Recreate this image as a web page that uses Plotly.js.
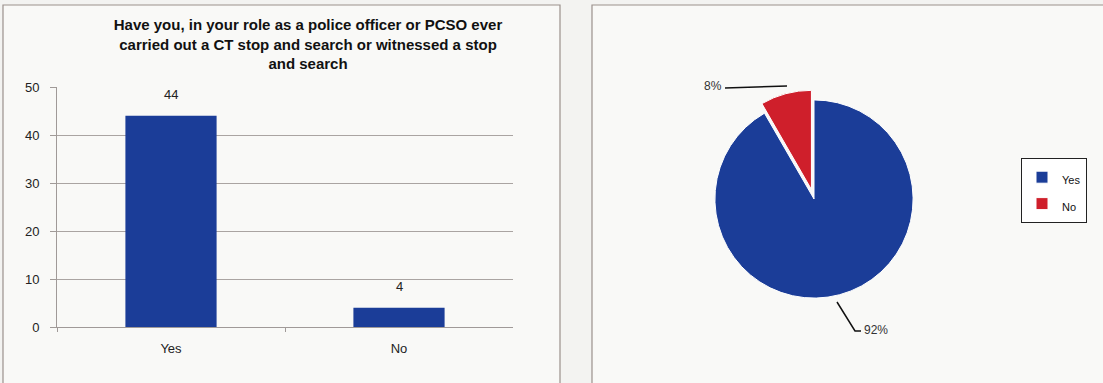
<!DOCTYPE html>
<html>
<head>
<meta charset="utf-8">
<script src="https://cdn.plot.ly/plotly-3.0.1.min.js"></script>
<style>html,body{margin:0;padding:0;background:#f3f3f1;}#chart{width:1103px;height:383px;}</style>
</head>
<body>
<div id="chart"></div>
<script>
// ---- data ----
const categories = ["Yes", "No"];
const counts = [44, 4];
const yTicks = [0, 10, 20, 30, 40, 50];
const chartTitle = "Have you, in your role as a police officer or PCSO ever<br>carried out a CT stop and search or witnessed a stop<br>and search";

// ---- helpers (layout only) ----
const W = 1103, H = 383;
const px = x => x / W;
const py = y => 1 - y / H;

const BLUE = "#1b3d98";
const RED = "#cf1f2b";
const FONT = "Liberation Sans, Arial, sans-serif";

const total = counts.reduce((a, b) => a + b, 0);
const pctText = counts.map(v => Math.round(v / total * 100) + "%");

const barTrace = {
  type: "bar",
  x: categories,
  y: counts,
  marker: {color: BLUE},
  width: 0.4,
  xaxis: "x", yaxis: "y",
  showlegend: false,
  hoverinfo: "x+y"
};

const pieTrace = {
  type: "pie",
  labels: categories.map(c => '<span style="font-size:11px">' + c + '</span>'),
  values: counts,
  sort: false,
  direction: "clockwise",
  rotation: 0,
  pull: [0, 0.1],
  marker: {colors: [BLUE, RED], line: {color: "#ffffff", width: 1}},
  textinfo: "none",
  domain: {x: [px(705), px(923)], y: [py(308), py(90)]},
  showlegend: true,
  hoverinfo: "label+percent"
};

// value labels over bars, from data
const barLabels = categories.map((c, i) => ({
  x: c, y: counts[i], xref: "x", yref: "y",
  text: String(counts[i]), showarrow: false, yanchor: "bottom", yshift: 12,
  font: {family: FONT, size: 13, color: "#222"}
}));

const pieLabels = [
  {xref: "paper", yref: "paper", x: px(724), y: py(86), xanchor: "right", yanchor: "middle",
   text: pctText[1], showarrow: false, font: {family: FONT, size: 12, color: "#333"}},
  {xref: "paper", yref: "paper", x: px(862), y: py(330), xanchor: "left", yanchor: "middle",
   text: pctText[0], showarrow: false, font: {family: FONT, size: 12, color: "#333"}}
];

const shapes = [
  // panels
  {type: "rect", xref: "paper", yref: "paper", x0: px(3), x1: px(560), y0: py(400), y1: py(5),
   fillcolor: "#f9f9f7", line: {color: "#9b918c", width: 1.2}, layer: "below"},
  {type: "rect", xref: "paper", yref: "paper", x0: px(592), x1: px(1115), y0: py(400), y1: py(5),
   fillcolor: "#f9f9f7", line: {color: "#9b918c", width: 1.2}, layer: "below"},
  // leader lines
  {type: "path", xref: "paper", yref: "paper",
   path: `M ${px(725)} ${py(88)} L ${px(787)} ${py(86)}`,
   line: {color: "#111", width: 1.5}},
  {type: "path", xref: "paper", yref: "paper",
   path: `M ${px(837)} ${py(302)} L ${px(855)} ${py(331)} L ${px(861)} ${py(331)}`,
   line: {color: "#111", width: 1.5}}
];

const layout = {
  width: W, height: H,
  margin: {l: 0, r: 0, t: 0, b: 0},
  paper_bgcolor: "#f3f3f1",
  plot_bgcolor: "rgba(0,0,0,0)",
  font: {family: FONT, size: 13, color: "#222"},
  title: {
    text: "<b>" + chartTitle + "</b>",
    x: px(308), xref: "paper", xanchor: "center",
    y: py(30), yref: "paper", yanchor: "top",
    font: {family: FONT, size: 15, color: "#111"}
  },
  xaxis: {
    domain: [px(57), px(513)],
    showline: true, linecolor: "#a09a98", linewidth: 1,
    ticks: "outside", tickson: "boundaries", ticklen: 4, tickcolor: "#a09a98",
    ticklabelstandoff: 9,
    tickfont: {family: FONT, size: 13, color: "#222"},
    showgrid: false, zeroline: false, fixedrange: true
  },
  yaxis: {
    domain: [py(327), py(87)],
    range: [0, 50],
    tickvals: yTicks,
    showline: true, linecolor: "#a09a98", linewidth: 1,
    ticks: "outside", ticklen: 6, tickcolor: "#a09a98",
    ticklabelstandoff: 8,
    showgrid: true, gridcolor: "#aaa4a2", gridwidth: 1,
    zeroline: false,
    tickfont: {family: FONT, size: 13, color: "#222"},
    fixedrange: true
  },
  bargap: 0.6,
  legend: {
    x: px(1021), y: py(158), xanchor: "left", yanchor: "top",
    bgcolor: "#ffffff", bordercolor: "#222", borderwidth: 1,
    font: {family: FONT, size: 18, color: "#111"},
    itemwidth: 30
  },
  annotations: barLabels.concat(pieLabels),
  shapes: shapes
};

Plotly.newPlot("chart", [barTrace, pieTrace], layout, {displayModeBar: false, staticPlot: true});
</script>
</body>
</html>
